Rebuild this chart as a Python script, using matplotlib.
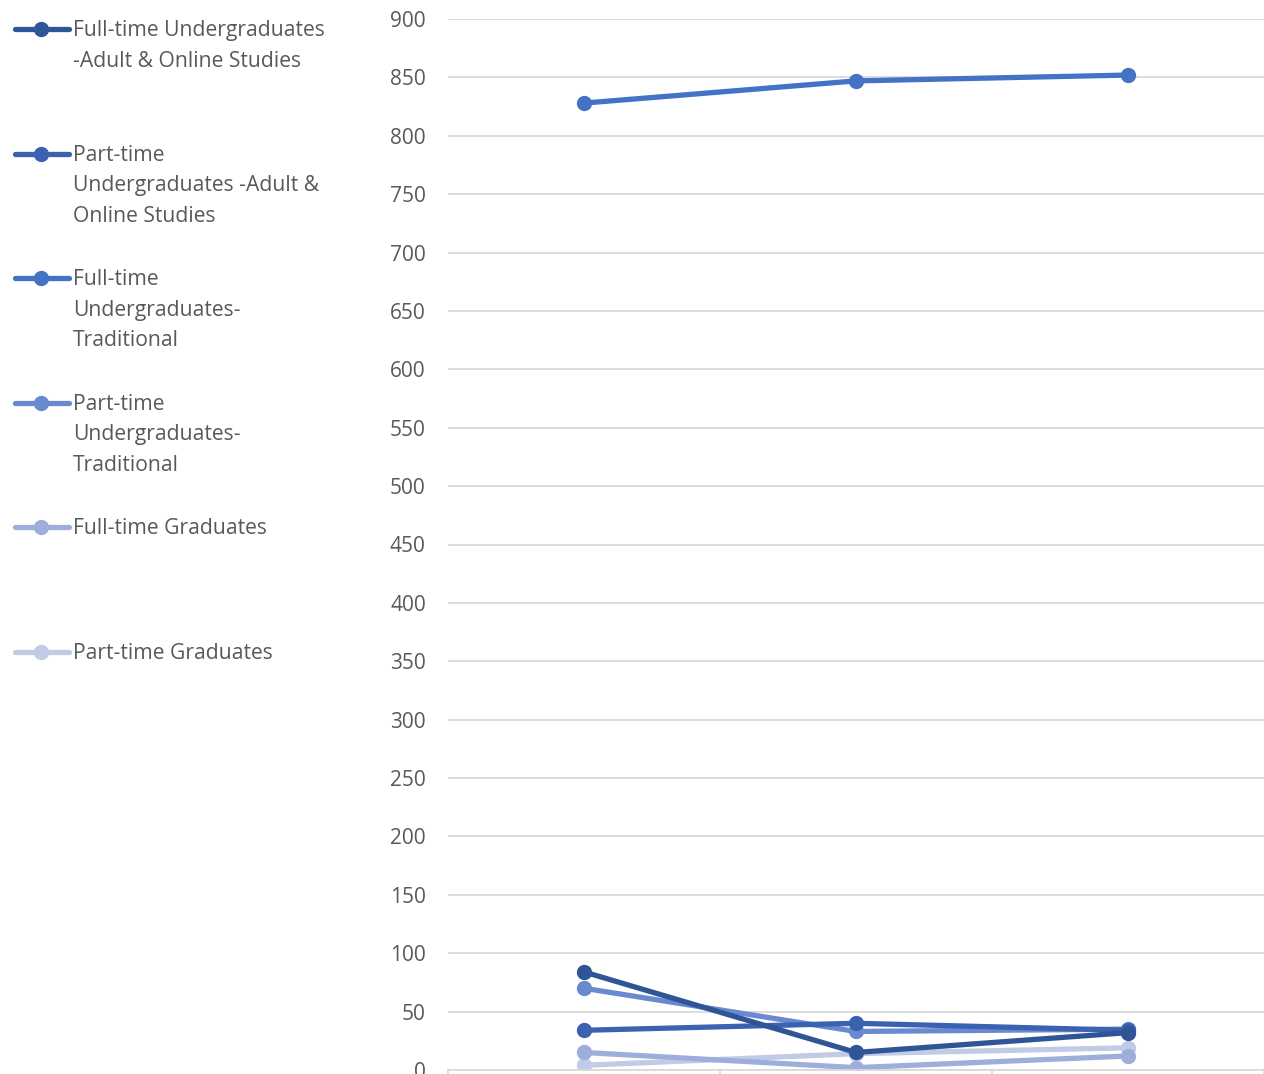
import matplotlib.pyplot as plt
from matplotlib.lines import Line2D

plt.rcParams['font.family'] = ['Open Sans', 'DejaVu Sans']

categories = ["Year 1", "Year 2", "Year 3"]
series_names = [
    "Full-time Undergraduates\n-Adult & Online Studies",
    "Part-time\nUndergraduates -Adult &\nOnline Studies",
    "Full-time\nUndergraduates-\nTraditional",
    "Part-time\nUndergraduates-\nTraditional",
    "Full-time Graduates",
    "Part-time Graduates",
]
ft_ug_adult = [84, 15, 32]
pt_ug_adult = [34, 40, 34]
ft_ug_trad = [828, 847, 852]
pt_ug_trad = [70, 33, 35]
ft_grad = [15, 2, 12]
pt_grad = [4, 14, 19]
values = [ft_ug_adult, pt_ug_adult, ft_ug_trad, pt_ug_trad, ft_grad, pt_grad]
colors = ["#2F5597", "#3A62B0", "#4472C4", "#6A8AD0", "#9DAEDB", "#C1CBE6"]

fig = plt.figure(figsize=(12.64, 10.74), dpi=100)
ax = fig.add_axes([448/1264, 4/1074, 816/1264, 1051/1074])

x = list(range(len(categories)))
# lighter series first so the darker ones end up on top
for vals, c in reversed(list(zip(values, colors))):
    ax.plot(x, vals, color=c, lw=3.8, marker='o', ms=10, solid_capstyle='round')

ax.set_xlim(-0.5, 2.5)
ax.set_ylim(0, 900)
ax.set_yticks(range(0, 901, 50))
ax.set_xticks([-0.5, 0.5, 1.5, 2.5])
ax.set_xticklabels([])
ax.tick_params(axis='x', length=8, color='#D9D9D9', width=1.2)
ax.tick_params(axis='y', length=0, pad=16, labelsize=15, labelcolor='#595959')
ax.grid(axis='y', color='#D9D9D9', lw=1.3)
ax.set_axisbelow(True)
for s in ['top', 'right', 'left']:
    ax.spines[s].set_visible(False)
ax.spines['bottom'].set_color('#D9D9D9')
ax.spines['bottom'].set_linewidth(1.3)

# legend on the left, one slot per series
H = 1074
for i, (name, c) in enumerate(zip(series_names, colors)):
    ypix = 29 + i * 124.6
    yf = 1 - ypix / H
    fig.add_artist(Line2D([15/1264, 69/1264], [yf, yf], color=c, lw=3.8,
                          solid_capstyle='round'))
    fig.add_artist(Line2D([41/1264], [yf], color=c, marker='o', ms=10))
    fig.text(73/1264, 1 - (ypix - 9) / H, name, fontsize=15.2, color='#595959',
             va='top', ha='left', linespacing=1.6)

fig.savefig("out.png", dpi=100)
